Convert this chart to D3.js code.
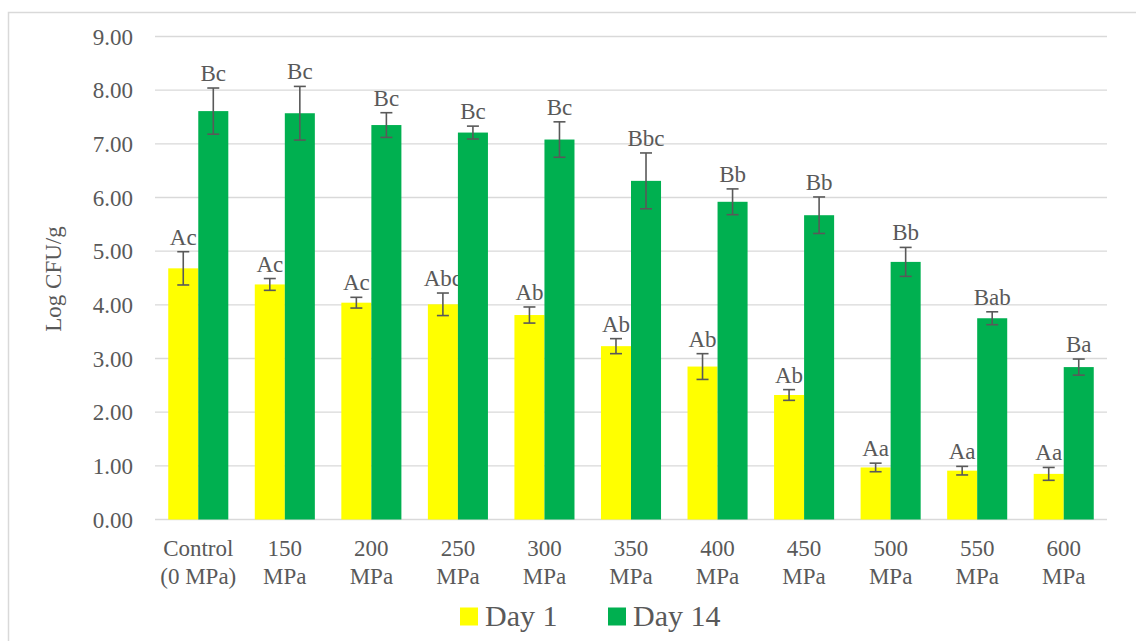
<!DOCTYPE html>
<html>
<head>
<meta charset="utf-8">
<script src="https://cdn.jsdelivr.net/npm/d3@7"></script>
<style>
  html, body { margin: 0; padding: 0; background: #ffffff; }
  svg { display: block; }
</style>
</head>
<body>
<script>
const categories = [
  ["Control", "(0 MPa)"], ["150", "MPa"], ["200", "MPa"], ["250", "MPa"], ["300", "MPa"],
  ["350", "MPa"], ["400", "MPa"], ["450", "MPa"], ["500", "MPa"], ["550", "MPa"], ["600", "MPa"]
];
const seriesNames = ["Day 1", "Day 14"];
const day1 = [4.68, 4.38, 4.04, 4.01, 3.81, 3.23, 2.85, 2.32, 0.97, 0.91, 0.85];
const day1Err = [0.31, 0.11, 0.10, 0.21, 0.15, 0.14, 0.24, 0.10, 0.08, 0.08, 0.12];
const day14 = [7.61, 7.57, 7.35, 7.21, 7.08, 6.31, 5.92, 5.67, 4.80, 3.75, 2.84];
const day14Err = [0.43, 0.50, 0.23, 0.12, 0.33, 0.52, 0.24, 0.34, 0.27, 0.12, 0.15];
const day1Labels = ["Ac", "Ac", "Ac", "Abc", "Ab", "Ab", "Ab", "Ab", "Aa", "Aa", "Aa"];
const day14Labels = ["Bc", "Bc", "Bc", "Bc", "Bc", "Bbc", "Bb", "Bb", "Bb", "Bab", "Ba"];
const yTicks = [0, 1, 2, 3, 4, 5, 6, 7, 8, 9];
const colors = ["#FFFF00", "#00B050"];

(function () {
const W = 1136, H = 641;
const svg = d3.select("body").append("svg").attr("width", W).attr("height", H)
  .attr("font-family", "'Liberation Serif', 'Times New Roman', Times, 'DejaVu Serif', serif")
  .attr("fill", "#595959");

// outer frame
svg.append("rect").attr("x", 8.5).attr("y", 12.5).attr("width", 1200).attr("height", 700)
  .attr("fill", "none").attr("stroke", "#D9D9D9").attr("stroke-width", 1.5);

const pLeft = 155, pRight = 1107, pTop = 36.5, pBottom = 519.5;

const x0 = d3.scaleBand().domain(d3.range(categories.length)).range([pLeft, pRight]).paddingInner(0.306).paddingOuter(0.153);
const x1 = d3.scaleBand().domain([0, 1]).range([0, x0.bandwidth()]);
const y = d3.scaleLinear().domain([0, 9]).range([pBottom, pTop]);

// gridlines
svg.append("g").selectAll("line").data(yTicks).join("line")
  .attr("x1", pLeft).attr("x2", pRight)
  .attr("y1", d => y(d)).attr("y2", d => y(d))
  .attr("stroke", "#D9D9D9").attr("stroke-width", 1.4);

// y tick labels
svg.append("g").selectAll("text").data(yTicks).join("text")
  .attr("x", 133).attr("y", d => y(d)).attr("dy", "0.35em")
  .attr("text-anchor", "end").attr("font-size", 23).attr("fill", "#595959")
  .text(d => d3.format(".2f")(d));

// y axis title
svg.append("text").attr("transform", "translate(61,279) rotate(-90)")
  .attr("text-anchor", "middle").attr("font-size", 23).attr("fill", "#595959").text("Log CFU/g");

const series = [
  { vals: day1, errs: day1Err, labels: day1Labels },
  { vals: day14, errs: day14Err, labels: day14Labels }
];

series.forEach((s, si) => {
  const g = svg.append("g");
  const data = s.vals.map((v, i) => ({ i, v, e: s.errs[i], l: s.labels[i] }));
  g.selectAll("rect").data(data).join("rect")
    .attr("x", d => x0(d.i) + x1(si))
    .attr("width", x1.bandwidth())
    .attr("y", d => y(d.v))
    .attr("height", d => y(0) - y(d.v))
    .attr("fill", colors[si]);
  const cx = d => x0(d.i) + x1(si) + x1.bandwidth() / 2;
  g.selectAll("line.eb").data(data).join("line").attr("class", "eb")
    .attr("x1", cx).attr("x2", cx)
    .attr("y1", d => y(d.v + d.e)).attr("y2", d => y(d.v - d.e))
    .attr("stroke", "#595959").attr("stroke-width", 1.6);
  g.selectAll("line.ct").data(data).join("line").attr("class", "ct")
    .attr("x1", d => cx(d) - 6).attr("x2", d => cx(d) + 6)
    .attr("y1", d => y(d.v + d.e)).attr("y2", d => y(d.v + d.e))
    .attr("stroke", "#595959").attr("stroke-width", 1.6);
  g.selectAll("line.cb").data(data).join("line").attr("class", "cb")
    .attr("x1", d => cx(d) - 6).attr("x2", d => cx(d) + 6)
    .attr("y1", d => y(d.v - d.e)).attr("y2", d => y(d.v - d.e))
    .attr("stroke", "#595959").attr("stroke-width", 1.6);
  g.selectAll("text").data(data).join("text")
    .attr("x", cx).attr("y", d => y(d.v + d.e) - 7)
    .attr("text-anchor", "middle").attr("font-size", 23).attr("fill", "#595959")
    .text(d => d.l);
});

// x labels
const xl = svg.append("g").selectAll("text").data(categories).join("text")
  .attr("text-anchor", "middle").attr("font-size", 23).attr("fill", "#595959")
  .attr("transform", (d, i) => `translate(${x0(i) + x0.bandwidth() / 2},556)`);
xl.selectAll("tspan").data(d => d).join("tspan")
  .attr("x", 0).attr("y", (d, j) => j * 27.5).text(d => d);

// legend
const legendX = [460, 608];
seriesNames.forEach((n, i) => {
  svg.append("rect").attr("x", legendX[i]).attr("y", 607.5).attr("width", 18).attr("height", 18).attr("fill", colors[i]);
  svg.append("text").attr("x", legendX[i] + 25).attr("y", 626).attr("font-size", 30).attr("fill", "#595959").text(n);
});
})();
</script>
</body>
</html>
